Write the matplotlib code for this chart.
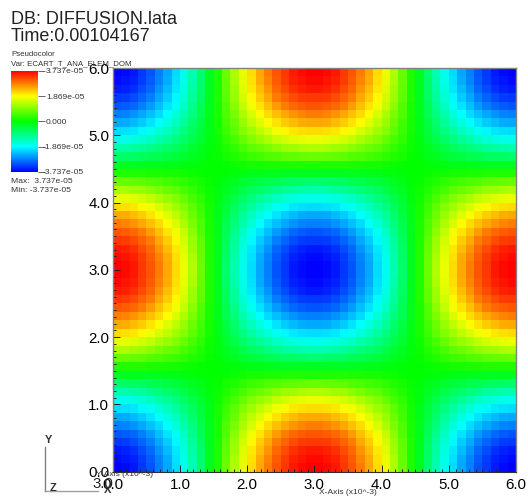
import matplotlib
matplotlib.use('Agg')
import matplotlib.pyplot as plt
from matplotlib.colors import LinearSegmentedColormap
from matplotlib.lines import Line2D
from matplotlib.transforms import ScaledTranslation
import numpy as np

plt.rcParams['font.family'] = ['Liberation Sans', 'DejaVu Sans']

W, H = 528, 497

# magnitude in the corner quadrant, as a fraction of the peak (cells of 0.125)
quadrant = np.array([
    [1.00, .98, .95, .89, .83, .75, .67, .57, .46, .34, .21, .06],
    [.98, .96, .93, .88, .82, .74, .66, .56, .45, .33, .20, .06],
    [.95, .93, .90, .85, .79, .71, .63, .54, .43, .31, .19, .06],
    [.89, .88, .85, .80, .75, .67, .60, .51, .41, .30, .18, .06],
    [.83, .82, .79, .75, .69, .62, .55, .47, .38, .27, .16, .05],
    [.75, .74, .71, .67, .62, .57, .50, .42, .33, .24, .15, .05],
    [.67, .66, .63, .60, .55, .50, .43, .37, .29, .21, .13, .04],
    [.57, .56, .54, .51, .47, .42, .37, .31, .25, .18, .11, .04],
    [.46, .45, .43, .41, .38, .33, .29, .25, .20, .14, .09, .03],
    [.34, .33, .31, .30, .27, .24, .21, .18, .14, .10, .06, .02],
    [.21, .20, .19, .18, .16, .15, .13, .11, .09, .06, .04, .01],
    [.06, .06, .06, .06, .05, .05, .04, .04, .03, .02, .01, .00],
])
peak = 3.737e-05
tick_values = [3.737e-05, 1.869e-05, 0.0, -1.869e-05, -3.737e-05]
tick_labels = ['3.737e-05', '1.869e-05', '0.000', '-1.869e-05', '-3.737e-05']
axis_ticks = [0.0, 1.0, 2.0, 3.0, 4.0, 5.0, 6.0]
minor_ticks = np.arange(0, 61) / 10

# the field repeats by mirroring: corners low, edge middles high, centre low
tile = np.block([[-quadrant, quadrant[:, ::-1]],
                 [quadrant[::-1, :], -quadrant[::-1, ::-1]]])
half = np.hstack([tile, tile[:, ::-1]])
field = np.vstack([half, half[::-1, :]]) * peak

cmap = LinearSegmentedColormap.from_list(
    'visit_hot', ['#0000ff', '#00ffff', '#00ff00', '#ffff00', '#ff0000'])

fig = plt.figure(figsize=(W / 100, H / 100), dpi=100)


def box(x0, y0, x1, y1):
    # pixel box to figure fractions
    return [x0 / W, 1 - y1 / H, (x1 - x0) / W, (y1 - y0) / H]


ax = fig.add_axes(box(112.8, 68, 516, 471.7))
edges = np.linspace(0, 6, 49)
mesh = ax.pcolormesh(edges, edges, field, cmap=cmap, vmin=-peak, vmax=peak)
ax.set_xlim(0, 6)
ax.set_ylim(0, 6)

ax.set_xticks(axis_ticks)
ax.set_xticklabels(['%.1f' % t for t in axis_ticks], fontsize=10.8)
ax.set_yticks(axis_ticks)
ax.set_yticklabels(['%.1f' % t for t in axis_ticks], fontsize=10.8)
ax.set_xticks(minor_ticks, minor=True)
ax.set_yticks(minor_ticks, minor=True)
ax.tick_params(which='major', direction='in', length=5, width=0.7, color='#222222')
ax.tick_params(which='minor', direction='in', length=2.5, width=0.7, color='#222222')
ax.tick_params(axis='x', which='major', pad=4.5)
ax.tick_params(axis='y', which='major', pad=2.5)
for side in ['left', 'right', 'top']:
    ax.spines[side].set_color('#808080')
    ax.spines[side].set_linewidth(1.0)
ax.spines['bottom'].set_color('#303030')
ax.spines['bottom'].set_linewidth(0.8)

# colour bar
cax = fig.add_axes(box(11, 70.7, 38, 172))
cbar = fig.colorbar(mesh, cax=cax, ticks=tick_values)
cbar.ax.set_yticklabels(tick_labels, fontsize=6.1, color='#333333')
cbar.ax.tick_params(length=4.8, width=0.7, color='#666666', pad=1)
cbar.outline.set_visible(False)
# negative labels hang back over the tick
shift = ScaledTranslation(-3.5 / 100, 0, fig.dpi_scale_trans)
for lbl in cbar.ax.get_yticklabels():
    if lbl.get_text().startswith('-'):
        lbl.set_transform(lbl.get_transform() + shift)

# header text
fig.text(11 / W, 1 - 24 / H, 'DB: DIFFUSION.lata', fontsize=13, color='#222222')
fig.text(11 / W, 1 - 41 / H, 'Time:0.00104167', fontsize=13, color='#222222')
fig.text(11 / W, 1 - 56.5 / H, 'Pseudocolor', fontsize=5.7, color='#333333')
fig.text(11 / W, 1 - 65 / H, 'Var: ECART_T_ANA_ELEM_DOM', fontsize=5.7, color='#333333')
fig.text(11 / W, 1 - 183 / H, 'Max:  3.737e-05', fontsize=6.1, color='#333333')
fig.text(11 / W, 1 - 192 / H, 'Min: -3.737e-05', fontsize=6.1, color='#333333')

# axis titles, the y one sits flat under the plot corner as in the original
fig.text(347.5 / W, 1 - 493 / H, 'X-Axis (x10^-3)', fontsize=6.1, color='#333333',
         ha='center', va='center')
fig.text(124.5 / W, 1 - 474.5 / H, 'Y-Axis (x10^-3)', fontsize=6.1, color='#333333',
         ha='center', va='center')
fig.text(92 / W, 1 - 488 / H, '3.0', fontsize=10.8, color='#222222')

# orientation triad
fig.add_artist(Line2D([44.5 / W, 44.5 / W], [1 - 447 / H, 1 - 491 / H], color='#808080', lw=1))
fig.add_artist(Line2D([44.5 / W, 98 / W], [1 - 491 / H, 1 - 491 / H], color='#a0a0a0', lw=1))
fig.text(49 / W, 1 - 440 / H, 'Y', fontsize=8, fontweight='bold', color='#333333', ha='center', va='center')
fig.text(53 / W, 1 - 488 / H, 'Z', fontsize=8, fontweight='bold', color='#333333', ha='center', va='center')
fig.text(108 / W, 1 - 490 / H, 'X', fontsize=8, fontweight='bold', color='#333333', ha='center', va='center')

fig.savefig('out.png', dpi=100)
